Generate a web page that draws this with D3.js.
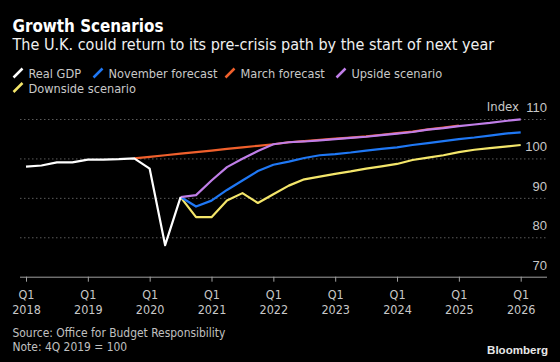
<!DOCTYPE html>
<html>
<head>
<meta charset="utf-8">
<script src="https://cdn.jsdelivr.net/npm/d3@7"></script>
<style>
  body { margin: 0; background: #000; }
  svg { display: block; background: #000; font-family: "DejaVu Sans Condensed", "DejaVu Sans", sans-serif; }
  .grid line { stroke: #5a5a5a; stroke-dasharray: 1.5,2.5; }
  .grid .domain { display: none; }
  .x .domain, .x line { stroke: #a0a0a0; }
  text { fill: #d0d0d0; }
</style>
</head>
<body>
<div id="chart"></div>
<script>
// quarters counted from Q1 2018 (index 0) to Q1 2026 (index 32)
const tickQuarters = [0, 4, 8, 12, 16, 20, 24, 28, 32];
const tickYears = ["2018", "2019", "2020", "2021", "2022", "2023", "2024", "2025", "2026"];
const yTicks = [70, 80, 90, 100, 110];

// Real GDP, Q1 2018 .. Q3 2020
const realStart = 0;
const realGdp = [97.9, 98.2, 99.0, 99.0, 99.7, 99.7, 99.8, 100.0, 97.4, 78.0, 90.2];

// March forecast, Q4 2019 .. Q1 2025
const marchStart = 7;
const marchForecast = [100.0, 100.4, 100.8, 101.2, 101.6, 102.0, 102.4, 102.8, 103.2, 103.6,
  104.1, 104.4, 104.7, 105.0, 105.3, 105.6, 106.0, 106.4, 106.8, 107.35, 107.8, 108.3];

// scenarios, Q3 2020 .. Q1 2026
const scenStart = 10;
const novemberForecast = [90.2, 87.8, 89.3, 92.0, 94.4, 96.8, 98.4, 99.2, 100.1, 100.8, 101.1, 101.5,
  102.0, 102.4, 102.8, 103.4, 103.9, 104.4, 104.9, 105.3, 105.8, 106.3, 106.6];
const upsideScenario = [90.2, 90.7, 94.4, 97.8, 99.9, 101.9, 103.6, 104.1, 104.3, 104.6, 104.9, 105.2,
  105.5, 105.9, 106.3, 106.7, 107.3, 107.7, 108.2, 108.6, 109.0, 109.5, 109.9];
const downsideScenario = [90.2, 85.1, 85.1, 89.3, 91.2, 88.7, 90.9, 93.1, 94.7, 95.4, 96.1, 96.7,
  97.4, 98.0, 98.6, 99.6, 100.2, 100.8, 101.6, 102.2, 102.6, 103.0, 103.4];

const series = [
  {name: "Real GDP", color: "#ffffff", start: realStart, values: realGdp},
  {name: "November forecast", color: "#1f78f5", start: scenStart, values: novemberForecast},
  {name: "March forecast", color: "#f0602c", start: marchStart, values: marchForecast},
  {name: "Upside scenario", color: "#c07ee8", start: scenStart, values: upsideScenario},
  {name: "Downside scenario", color: "#f4e66a", start: scenStart, values: downsideScenario}
];
// order lines are drawn in
const drawOrder = ["March forecast", "Downside scenario", "November forecast", "Upside scenario", "Real GDP"];

const W = 560, H = 362;
const svg = d3.select("#chart").append("svg")
  .attr("width", W).attr("height", H);

// shrink / grow a text's font so it spans the width seen in the reference
function fit(sel, width) {
  const size = parseFloat(sel.style("font-size"));
  const w = sel.node().getComputedTextLength();
  sel.style("font-size", (size * width / w).toFixed(2) + "px");
  return sel;
}

const x = d3.scaleLinear().domain([0, 32]).range([26, 520.7]);
const y = d3.scaleLinear().domain([70, 110]).range([276.7, 119]);

// title block
fit(svg.append("text").attr("x", 12.5).attr("y", 32.3)
  .style("font-size", "15.5px").style("font-weight", "bold").style("fill", "#fff")
  .text("Growth Scenarios"), 151);
fit(svg.append("text").attr("x", 12.5).attr("y", 50)
  .style("font-size", "14.5px").style("fill", "#f0f0f0")
  .text("The U.K. could return to its pre-crisis path by the start of next year"), 482);

// legend
const legendPos = [[13, 78], [93, 78], [225, 78], [336, 78], [13, 92.5]];
const leg = svg.append("g").selectAll("g").data(series).enter().append("g")
  .attr("transform", (d, i) => "translate(" + legendPos[i][0] + "," + legendPos[i][1] + ")");
leg.append("line")
  .attr("x1", 0.5).attr("y1", -0.5).attr("x2", 9.5).attr("y2", -9.5)
  .style("stroke", d => d.color).style("stroke-width", 2.5);
const legText = leg.append("text").attr("x", 15.5).attr("y", 0)
  .style("font-size", "13px").style("fill", "#c8c8c8")
  .text(d => d.name);
// one common size, from the widest entry
fit(legText.filter(d => d.name === "November forecast"), 109);
legText.style("font-size", legText.filter(d => d.name === "November forecast").style("font-size"));

// gridlines + y labels
const yAxis = svg.append("g").attr("class", "grid")
  .attr("transform", "translate(20,0)")
  .call(d3.axisRight(y).tickValues(yTicks).tickSize(527).tickFormat(d3.format("d")));
yAxis.selectAll(".tick").filter(d => d === 70).select("line").remove();
yAxis.selectAll("text")
  .attr("x", 527).attr("dy", -7.5).attr("text-anchor", "end")
  .style("font-size", "13px").style("fill", "#c8c8c8").style("font-family", null);
svg.append("text").attr("x", 519).attr("y", y(110) - 7.8)
  .attr("text-anchor", "end")
  .style("font-size", "13px").style("fill", "#c8c8c8")
  .text("Index");

// x axis
const xAxis = svg.append("g").attr("class", "x")
  .attr("transform", "translate(0," + y(70) + ")")
  .call(d3.axisBottom(x).tickValues(tickQuarters).tickSize(5).tickSizeOuter(0).tickFormat(() => ""));
xAxis.select(".domain").attr("d", "M20,0.5H547");
xAxis.selectAll(".tick text").remove();
const xl = xAxis.selectAll(".tick").append("text")
  .attr("text-anchor", "middle").style("font-size", "12.5px").style("fill", "#c8c8c8")
  .style("font-family", "'DejaVu Sans Condensed', 'DejaVu Sans', sans-serif");
xl.append("tspan").attr("x", 0).attr("y", 22.3).text("Q1");
xl.append("tspan").attr("x", 0).attr("y", 37.6).text((d, i) => tickYears[i]);

// lines
const line = d3.line()
  .x(d => x(d.q))
  .y(d => y(d.v));
drawOrder.forEach(name => {
  const s = series.find(t => t.name === name);
  const pts = s.values.map((v, i) => ({q: s.start + i, v: v}));
  svg.append("path").datum(pts)
    .attr("d", line)
    .style("fill", "none")
    .style("stroke", s.color)
    .style("stroke-width", 2.2)
    .style("stroke-linejoin", "round");
});

// footer
const src = fit(svg.append("text").attr("x", 12.5).attr("y", 337.3)
  .style("font-size", "12.5px").style("fill", "#c0c0c0")
  .text("Source: Office for Budget Responsibility"), 213);
svg.append("text").attr("x", 12.5).attr("y", 350.5)
  .style("font-size", src.style("font-size")).style("fill", "#c0c0c0")
  .text("Note: 4Q 2019 = 100");
fit(svg.append("text").attr("x", 548).attr("y", 354)
  .attr("text-anchor", "end")
  .style("font-size", "12.5px").style("font-weight", "bold").style("fill", "#e8e8e8")
  .style("font-family", "'Liberation Sans', Arial, sans-serif")
  .text("Bloomberg"), 61);
</script>
</body>
</html>
